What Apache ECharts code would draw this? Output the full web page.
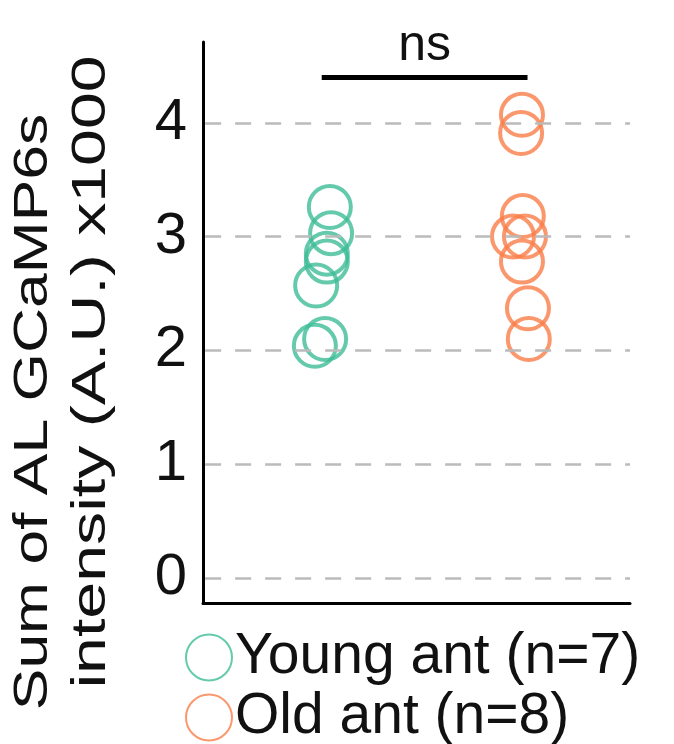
<!DOCTYPE html>
<html><head><meta charset="utf-8">
<script src="https://cdn.jsdelivr.net/npm/echarts@6/dist/echarts.min.js"></script>
<style>html,body{margin:0;background:#fff}#c{width:674px;height:744px}</style></head>
<body><div id="c"></div>
<script>
const youngX = [2.97, 3.0, 2.9, 2.9, 2.65, 2.86, 2.62];
const youngY = [3.26, 3.03, 2.85, 2.78, 2.57, 2.10, 2.04];
const oldX = [7.47, 7.45, 7.49, 7.54, 7.26, 7.47, 7.61, 7.63];
const oldY = [4.07, 3.91, 3.18, 3.00, 3.00, 2.78, 2.37, 2.10];
const yTicks = [0, 1, 2, 3, 4];
const sigLevel = 4.40, sigFrom = 2.78, sigTo = 7.6, sigText = 'ns';
const young = 'Young ant (n=7)', old = 'Old ant (n=8)';
const titleLines = ['Sum of AL GCaMP6s', 'intensity (A.U.) x1000'];
const font = 'Liberation Sans, Arial, sans-serif';
const chart = echarts.init(document.getElementById('c'));
const zip = (a, b) => a.map((v, i) => [v, b[i]]);
const legendBase = {orient: 'vertical', left: 180, itemWidth: 46, itemHeight: 46,
  textStyle: {fontSize: 57, color: '#111', fontFamily: font, padding: [0, 0, 0, -2]}};
chart.setOption({
  animation: false,
  textStyle: {fontFamily: font},
  grid: {left: 203, right: 44, top: 42, bottom: 141, outerBoundsMode: 'none', containLabel: false},
  xAxis: {type: 'value', min: 0, max: 10, axisLine: {show: true, onZero: false, lineStyle: {color: '#000', width: 3}},
    axisTick: {show: false}, axisLabel: {show: false}, splitLine: {show: false}},
  yAxis: {type: 'value', min: -0.22, max: 4.71,
    axisLine: {show: true, lineStyle: {color: '#000', width: 3}}, axisTick: {show: false},
    splitLine: {show: false},
    axisLabel: {customValues: yTicks, fontSize: 58, color: '#111', margin: 16, fontFamily: font}},
  graphic: [
    {type: 'text', x: 34, y: 412, rotation: Math.PI / 2, scaleX: 1.3,
     style: {text: titleLines[0], font: '48px ' + font, fill: '#111', align: 'center', verticalAlign: 'middle'}},
    {type: 'text', x: 92, y: 372, rotation: Math.PI / 2, scaleX: 1.38,
     style: {text: titleLines[1], font: '48px ' + font, fill: '#111', align: 'center', verticalAlign: 'middle'}}
  ],
  legend: [Object.assign({top: 624, data: [young]}, legendBase), Object.assign({top: 684, data: [old]}, legendBase)],
  series: [
    {name: young, type: 'scatter', symbol: 'circle', symbolSize: 42, data: zip(youngX, youngY),
     itemStyle: {color: 'rgba(0,0,0,0)', borderColor: '#3dbd96', borderWidth: 4}},
    {name: old, type: 'scatter', symbol: 'circle', symbolSize: 42, data: zip(oldX, oldY),
     itemStyle: {color: 'rgba(0,0,0,0)', borderColor: '#fa7d48', borderWidth: 4},
     markLine: {silent: true, symbol: 'none',
       lineStyle: {color: '#000', type: 'solid', width: 5},
       label: {show: true, position: 'middle', formatter: sigText, fontSize: 50, color: '#111', distance: 6},
       data: [[{coord: [sigFrom, sigLevel]}, {coord: [sigTo, sigLevel]}]]}},
    {type: 'line', data: [], silent: true, z: 1,
     markLine: {silent: true, symbol: 'none', label: {show: false},
       lineStyle: {color: '#bbb', type: [16, 14], width: 2.5},
       data: yTicks.map(v => [{coord: [0.05, v]}, {coord: [10, v]}])}}
  ]
});
</script></body></html>
